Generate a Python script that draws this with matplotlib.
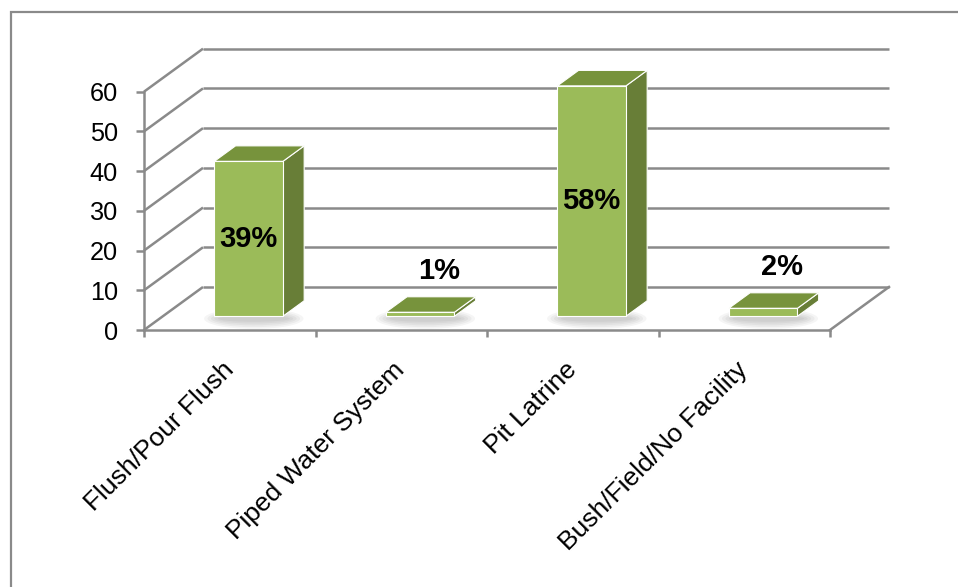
import matplotlib.pyplot as plt
from matplotlib.patches import Polygon, Ellipse, Rectangle

plt.rcParams['font.family'] = ['Liberation Sans', 'DejaVu Sans']

categories = ['Flush/Pour Flush', 'Piped Water System', 'Pit Latrine',
              'Bush/Field/No Facility']
values = [39, 1, 58, 2]
y_ticks = [0, 10, 20, 30, 40, 50, 60]

GRID = '#8a8a8a'
FRONT = '#9bbb59'
SIDE = '#687e37'
TOP = '#77933c'

W, H = 958, 587
fig = plt.figure(figsize=(W / 100, H / 100), dpi=100)

# outer chart frame (runs off the right and bottom edges)
fig.patches.append(Rectangle((11 / W, -0.1), 1.2, 1.1 - 12 / H,
                             transform=fig.transFigure, fill=False,
                             edgecolor=GRID, linewidth=1.6))

# front plane of the 3-D box
ax = fig.add_axes([144 / W, (H - 330) / H, 686 / W, 238.3 / H])
ax.set_xlim(0, len(categories))
ax.set_ylim(0, 60)
ax.patch.set_visible(False)
for s in ax.spines.values():
    s.set_visible(False)

# oblique depth offset (full depth) in data units
DXC = 59 / 171.5
DYV = 43 / 3.97


def proj(x, v, d):
    return (x + d * DXC, v + d * DYV)


lw = 1.8
n = len(categories)

# side wall diagonals and back wall gridlines
for v in y_ticks:
    a, b = proj(0, v, 0), proj(0, v, 1)
    ax.plot([a[0], b[0]], [a[1], b[1]], color=GRID, lw=lw, clip_on=False,
            solid_capstyle='butt', zorder=1)
    c = proj(n, v, 1)
    ax.plot([b[0], c[0]], [b[1], c[1]], color=GRID, lw=lw, clip_on=False,
            solid_capstyle='butt', zorder=1)

# front axis and floor edges
ax.plot([0, 0], [0, 60], color=GRID, lw=lw, clip_on=False, zorder=1)
ax.plot([0, n], [0, 0], color=GRID, lw=lw, clip_on=False, zorder=1)
e = proj(n, 0, 1)
ax.plot([n, e[0]], [0, e[1]], color=GRID, lw=lw, clip_on=False, zorder=1)

ax.set_yticks(y_ticks)
ax.tick_params(axis='y', length=5.8, width=lw, color=GRID, pad=13,
               labelsize=18.2, labelcolor='black')
ax.set_xticks(range(n + 1), [''] * (n + 1))
ax.tick_params(axis='x', which='major', length=5, width=lw, color=GRID)
ax.set_xticks([i + 0.5 for i in range(n)], categories, minor=True,
              rotation=45, ha='right', va='center', rotation_mode='anchor')
ax.tick_params(axis='x', which='minor', length=0, pad=26, labelsize=19)

BW = 0.40
D0, D1 = 0.32, 0.68

for i, val in enumerate(values):
    x0 = i + 0.5 - BW / 2
    x1 = i + 0.5 + BW / 2

    # soft floor shadow
    cx, cy = proj(i + 0.5, 0, D0)
    for k in range(5):
        ax.add_patch(Ellipse((cx + 0.03, cy - 0.6), BW * (1.05 + 0.1 * k),
                             1.6 + 0.9 * k, color='black', alpha=0.04,
                             lw=0, zorder=2, clip_on=False))

    front = [proj(x0, 0, D0), proj(x1, 0, D0), proj(x1, val, D0),
             proj(x0, val, D0)]
    side = [proj(x1, 0, D0), proj(x1, 0, D1), proj(x1, val, D1),
            proj(x1, val, D0)]
    top = [proj(x0, val, D0), proj(x1, val, D0), proj(x1, val, D1),
           proj(x0, val, D1)]
    for pts, col in ((side, SIDE), (top, TOP), (front, FRONT)):
        ax.add_patch(Polygon(pts, closed=True, facecolor=col,
                             edgecolor='white', lw=0.8, zorder=3,
                             clip_on=False))

    label = f'{val}%'
    if val >= 10:
        px, py = proj(i + 0.5, val / 2, D0)
        ax.text(px, py, label, ha='center', va='center', fontsize=21,
                fontweight='bold', zorder=5)
    else:
        px, py = proj(i + 0.5, val, (D0 + D1) / 2)
        ax.annotate(label, (px, py), xytext=(6, 24), textcoords='offset points',
                    ha='center', va='center', fontsize=21, fontweight='bold',
                    zorder=5, annotation_clip=False)

fig.savefig('out.png', dpi=100)
